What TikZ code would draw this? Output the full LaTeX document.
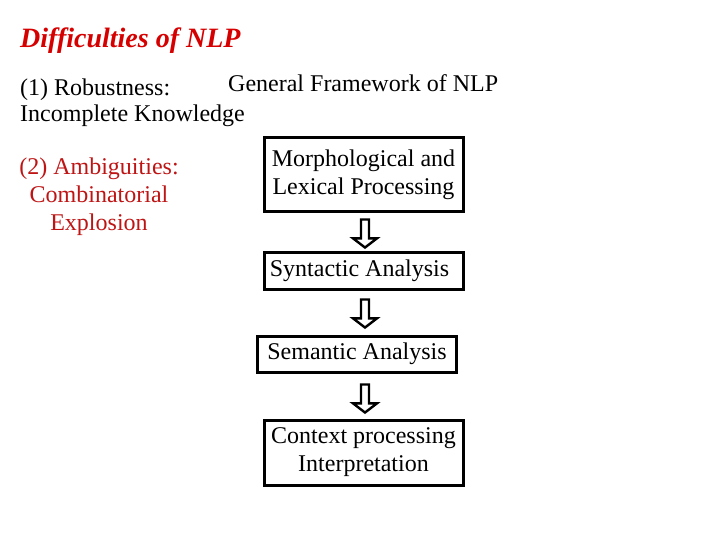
\documentclass[tikz,border=0pt]{standalone}
\usepackage{fontspec}
\setmainfont{Liberation Serif}
\usepackage{xcolor}
\usetikzlibrary{shapes.arrows}
\definecolor{nlpred}{RGB}{214,0,0}
\definecolor{ambred}{RGB}{190,20,20}
\tikzset{
  heading/.style={font=\fontsize{28}{33}\selectfont\bfseries\itshape,text=nlpred,inner sep=0pt},
  plain/.style={font=\fontsize{24}{28}\selectfont,inner sep=0pt},
  ambig/.style={font=\fontsize{24}{28}\selectfont,text=ambred,inner sep=0pt,align=center},
  stage/.style={draw=black,line width=3pt,fill=white,font=\fontsize{24}{28}\selectfont,align=center,inner sep=0pt,minimum width=199pt},
  flow/.style={single arrow,draw=black,line width=2.4pt,fill=white,rotate=-90,inner sep=2.8pt,text height=0pt,text depth=0pt,text width=0pt,single arrow head extend=8pt,single arrow tip angle=105,minimum height=28pt},
}

\begin{document}
\begin{tikzpicture}[x=1pt,y=-1pt]
  \useasboundingbox (0,0) rectangle (720,540);
  \node[heading,anchor=base west] (title) at (20,48) {Difficulties of NLP};
  \node[plain,anchor=base west] (robust) at (20,96) {(1) Robustness:};
  \node[plain,anchor=base west] (incomplete) at (20,122) {Incomplete Knowledge};
  \node[plain,anchor=base west] (framework) at (228,92) {General Framework of NLP};
  \node[ambig,anchor=base] (ambiguity) at (99,230) {(2) Ambiguities:\\Combinatorial\\Explosion};
  \node[stage,minimum height=74pt] (morph) at (363.5,174.5) {Morphological and\\Lexical Processing};
  \node[stage,minimum height=37pt] (syntax) at (363.5,270.5) {Syntactic Analysis\hspace{8pt}};
  \node[stage,minimum height=36pt] (semantic) at (357,354) {Semantic Analysis};
  \node[stage,minimum height=65pt] (context) at (363.5,452.5) {Context processing\\Interpretation};
  \node[flow] (step1) at (365,232) {};
  \node[flow] (step2) at (365,312) {};
  \node[flow] (step3) at (365,397) {};
\end{tikzpicture}
\end{document}
